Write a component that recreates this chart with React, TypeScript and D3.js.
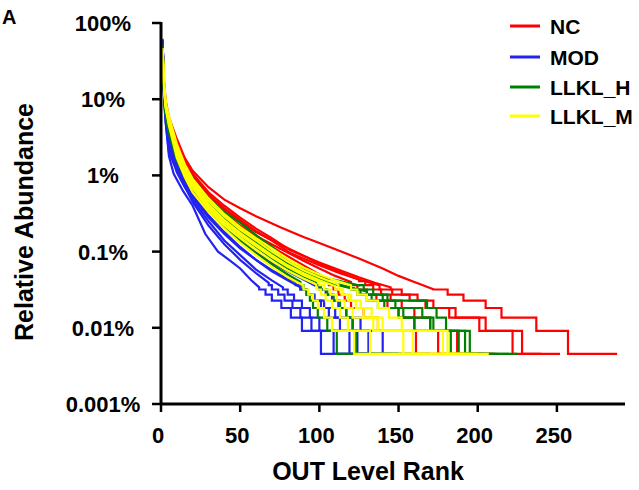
import React from "react";
import * as d3 from "d3";

const DEPTH = 22000; // reads per sample (1 read = lowest level)
const groupNames = ["NC", "MOD", "LLKL_H", "LLKL_M"];
const groupColors = ["#ff0000", "#2323f0", "#008000", "#ffff00"];
const yTicks = [0.001, 0.01, 0.1, 1, 10, 100];
const yTickLabels = ["0.001%", "0.01%", "0.1%", "1%", "10%", "100%"];
const xTicks = [0, 50, 100, 150, 200, 250];

// ---- NC (rank, relative abundance %) ----
const ncHeads = [
  [[1,52],[2,16],[3,9.5],[5,5.8],[10,3.0],[15,1.7],[20,1.15],[30,0.7],[40,0.48],[50,0.37],[60,0.29],[75,0.21],[90,0.155],[100,0.13],[115,0.098],[125,0.081],[140,0.06],[150,0.048],[160,0.04],[172,0.032]],
  [[1,48],[2,14],[3,8.5],[5,5.2],[10,2.8],[15,1.55],[20,1.05],[30,0.6],[40,0.4],[50,0.28],[60,0.2],[70,0.15],[82,0.103],[100,0.072],[113,0.057],[125,0.046],[135,0.039],[145,0.034]],
  [[1,45],[2,13],[3,8],[5,5.0],[10,2.6],[15,1.45],[20,0.98],[30,0.56],[40,0.37],[50,0.26],[60,0.185],[70,0.14],[82,0.095],[100,0.066],[113,0.052],[125,0.043],[138,0.036]],
  [[1,50],[2,12],[3,7.2],[5,4.5],[10,2.4],[15,1.35],[20,0.9],[30,0.5],[40,0.32],[50,0.22],[60,0.155],[75,0.1],[90,0.066],[100,0.05],[106,0.042]],
  [[1,41],[2,11],[3,6.8],[5,4.2],[10,2.3],[15,1.3],[20,0.86],[30,0.48],[40,0.31],[50,0.215],[60,0.16],[75,0.11],[90,0.076],[100,0.06],[110,0.048],[120,0.04]],
  [[1,46],[2,12.5],[3,7.5],[5,4.7],[10,2.5],[15,1.4],[20,0.95],[30,0.53],[40,0.35],[50,0.25],[60,0.18],[75,0.125],[90,0.088],[100,0.07],[115,0.052],[125,0.043]],
];
const ncStartCount = [7, 7, 7, 8, 8, 9];
const ncDrops = [
  [181,191,205,215,237,257,288],
  [152,162,172,186,201,228,252],
  [146,157,167,182,205,222,240],
  [109,112,116,120,128,137,161,190],
  [124,130,136,143,150,160,175,205],
  [129,134,139,145,152,160,170,187,212],
];

// ---- MOD ----
const modHeads = [
  [[1,62],[2,11],[3,5],[5,1.8],[8,1.05],[14,0.62],[20,0.4],[28,0.17],[36,0.1],[44,0.075],[50,0.06],[57,0.042],[62,0.034]],
  [[1,58],[2,10],[3,5.5],[5,2.3],[10,1.1],[15,0.7],[20,0.48],[30,0.25],[40,0.14],[50,0.09],[60,0.058],[70,0.042],[77,0.034]],
  [[1,55],[2,12],[3,6.5],[5,3.0],[10,1.35],[15,0.82],[20,0.56],[30,0.3],[40,0.18],[50,0.115],[60,0.078],[70,0.055],[80,0.042],[88,0.034]],
  [[1,60],[2,9],[3,4.8],[5,2.0],[10,1.15],[15,0.72],[20,0.45],[30,0.22],[40,0.125],[50,0.078],[60,0.052],[68,0.039]],
  [[1,57],[2,13],[3,7],[5,3.8],[10,1.5],[15,0.9],[20,0.62],[30,0.34],[40,0.21],[50,0.14],[60,0.098],[70,0.072],[80,0.055],[90,0.043],[97,0.036]],
  [[1,53],[2,11],[3,6],[5,2.6],[10,1.25],[15,0.76],[20,0.52],[30,0.28],[40,0.17],[50,0.11],[60,0.078],[70,0.057],[78,0.046],[85,0.04]],
];
const modStartCount = [7, 7, 7, 8, 8, 8];
const modDrops = [
  [66,70,76,82,89,109,135],
  [80,84,89,94,100,124,145],
  [92,97,103,110,126,140,160],
  [70,74,78,83,88,95,101,130],
  [100,104,108,112,117,121,131,150],
  [88,92,96,101,106,113,119,140],
];

// ---- LLKL_H ----
const hHeads = [
  [[1,50],[2,14],[3,8.5],[5,5.2],[10,2.4],[15,1.35],[20,0.92],[30,0.5],[40,0.33],[50,0.24],[60,0.165],[70,0.115],[82,0.07],[95,0.052],[105,0.045],[115,0.04],[125,0.036]],
  [[1,46],[2,12],[3,7.5],[5,4.8],[10,2.2],[15,1.25],[20,0.85],[30,0.46],[40,0.3],[50,0.21],[60,0.145],[70,0.1],[82,0.065],[95,0.048],[105,0.04],[118,0.034],[130,0.03]],
  [[1,48],[2,11],[3,6.8],[5,4.3],[10,2.0],[15,1.15],[20,0.78],[30,0.42],[40,0.27],[50,0.19],[60,0.13],[70,0.09],[82,0.06],[95,0.045],[108,0.038],[120,0.033]],
  [[1,44],[2,12],[3,7.2],[5,4.6],[10,2.1],[15,1.2],[20,0.8],[30,0.44],[40,0.28],[50,0.2],[60,0.14],[70,0.095],[82,0.062],[95,0.047],[108,0.039],[122,0.033]],
  [[1,52],[2,10],[3,6],[5,3.6],[10,1.6],[15,0.95],[20,0.62],[30,0.34],[40,0.21],[50,0.14],[60,0.095],[70,0.068],[80,0.05],[88,0.04]],
  [[1,49],[2,11],[3,6.5],[5,4.0],[10,1.8],[15,1.05],[20,0.7],[30,0.38],[40,0.24],[50,0.165],[60,0.115],[70,0.082],[80,0.06],[90,0.047],[98,0.04]],
];
const hStartCount = [8, 6, 7, 7, 8, 8];
const hDrops = [
  [128,134,140,148,165,172,188,225],
  [143,168,174,180,192,210],
  [124,130,137,150,160,183,200],
  [126,133,141,153,170,195,220],
  [90,92,94,96,99,105,111,150],
  [101,105,109,113,117,121,123,170],
];

// ---- LLKL_M ----
const mHeads = [
  [[1,40],[2,13],[3,7.5],[5,4.5],[10,1.7],[15,0.95],[20,0.6],[30,0.33],[40,0.2],[50,0.13],[60,0.09],[70,0.063],[80,0.046],[90,0.036]],
  [[1,43],[2,14],[3,8],[5,5.0],[10,2.2],[15,1.2],[20,0.78],[30,0.42],[40,0.26],[50,0.175],[60,0.125],[70,0.09],[80,0.066],[90,0.052],[100,0.042],[110,0.035]],
  [[1,47],[2,15],[3,9],[5,6],[10,2.6],[15,1.4],[20,0.9],[30,0.5],[40,0.31],[50,0.21],[60,0.15],[70,0.11],[80,0.08],[90,0.062],[100,0.05],[110,0.042],[120,0.036]],
  [[1,42],[2,13],[3,7.8],[5,4.8],[10,1.9],[15,1.05],[20,0.68],[30,0.36],[40,0.22],[50,0.15],[60,0.105],[70,0.075],[80,0.056],[90,0.044],[98,0.037]],
  [[1,44],[2,14.5],[3,8.5],[5,5.5],[10,2.4],[15,1.3],[20,0.84],[30,0.46],[40,0.29],[50,0.195],[60,0.14],[70,0.1],[80,0.074],[90,0.057],[100,0.046],[112,0.037]],
  [[1,46],[2,14],[3,8.2],[5,5.2],[10,2.1],[15,1.15],[20,0.74],[30,0.39],[40,0.24],[50,0.165],[60,0.118],[70,0.085],[80,0.063],[90,0.049],[100,0.04]],
];
const mStartCount = [7, 7, 7, 7, 7, 8];
const mDrops = [
  [93,96,99,103,108,122,207],
  [114,118,123,128,134,153,185],
  [124,130,137,144,152,178,200],
  [101,104,108,113,118,132,165],
  [115,120,126,133,140,159,190],
  [103,107,111,116,121,137,181,195],
];

const allHeads = [ncHeads, modHeads, hHeads, mHeads];
const allStart = [ncStartCount, modStartCount, hStartCount, mStartCount];
const allDrops = [ncDrops, modDrops, hDrops, mDrops];

function samplePoints(head: number[][], k0: number, drops: number[]): [number, number][] {
  const pts: [number, number][] = head.map((p) => [p[0], p[1]]);
  let r = head[head.length - 1][0];
  drops.forEach((d, i) => {
    const v = ((k0 - i) / DEPTH) * 100;
    pts.push([r, v]);
    pts.push([d, v]);
    r = d;
  });
  return pts;
}

export default function App() {
  const W = 639, H = 490;
  const x = d3.scaleLinear().domain([0, 293]).range([161, 625]);
  const y = d3.scaleLog().domain([0.001, 100]).range([404, 23]);
  const line = d3
    .line<[number, number]>()
    .x((d) => x(d[0]))
    .y((d) => y(d[1]));
  const font = "'Liberation Sans', Arial, sans-serif";
  const legendY = [26, 57, 87, 116];

  return (
    <svg
      width={W}
      height={H}
      viewBox={`0 0 ${W} ${H}`}
      style={{ position: "absolute", left: 0, top: 0, background: "#fff" }}
      fontFamily={font}
      fontWeight="bold"
    >
      <rect width={W} height={H} fill="#fff" />
      <text x={2} y={24} fontSize={20} fill="#000">A</text>

      {/* data lines */}
      {allHeads.map((heads, g) =>
        heads.map((head, i) => (
          <path
            key={`${g}-${i}`}
            d={line(samplePoints(head, allStart[g][i], allDrops[g][i])) || ""}
            fill="none"
            stroke={groupColors[g]}
            strokeWidth={2.2}
            strokeLinejoin="miter"
          />
        ))
      )}

      {/* y axis */}
      <line x1={161} x2={161} y1={y(100) - 1} y2={404} stroke="#000" strokeWidth={3} />
      {yTicks.map((t, i) => (
        <g key={t}>
          <line x1={152} x2={161} y1={y(t)} y2={y(t)} stroke="#000" strokeWidth={2.5} />
          <text x={103} y={y(t)} dy="0.36em" textAnchor="middle" fontSize={22} fill="#000">
            {yTickLabels[i]}
          </text>
        </g>
      ))}

      {/* x axis */}
      <line x1={160} x2={625} y1={404} y2={404} stroke="#000" strokeWidth={3} />
      {xTicks.map((t) => (
        <g key={t}>
          <line x1={x(t)} x2={x(t)} y1={404} y2={412} stroke="#000" strokeWidth={2.5} />
          <text x={x(t) - 3} y={443} textAnchor="middle" fontSize={22} fill="#000">
            {t}
          </text>
        </g>
      ))}

      <text x={368} y={480} textAnchor="middle" fontSize={25} fill="#000">
        OUT Level Rank
      </text>
      <text
        transform="translate(33,222) rotate(-90)"
        textAnchor="middle"
        fontSize={25}
        fill="#000"
      >
        Relative Abundance
      </text>

      {/* legend */}
      {groupNames.map((n, i) => (
        <g key={n}>
          <line x1={510} x2={540} y1={legendY[i]} y2={legendY[i]} stroke={groupColors[i]} strokeWidth={3} />
          <text x={550} y={legendY[i]} dy="0.36em" fontSize={21} fill="#000">
            {n}
          </text>
        </g>
      ))}
    </svg>
  );
}
